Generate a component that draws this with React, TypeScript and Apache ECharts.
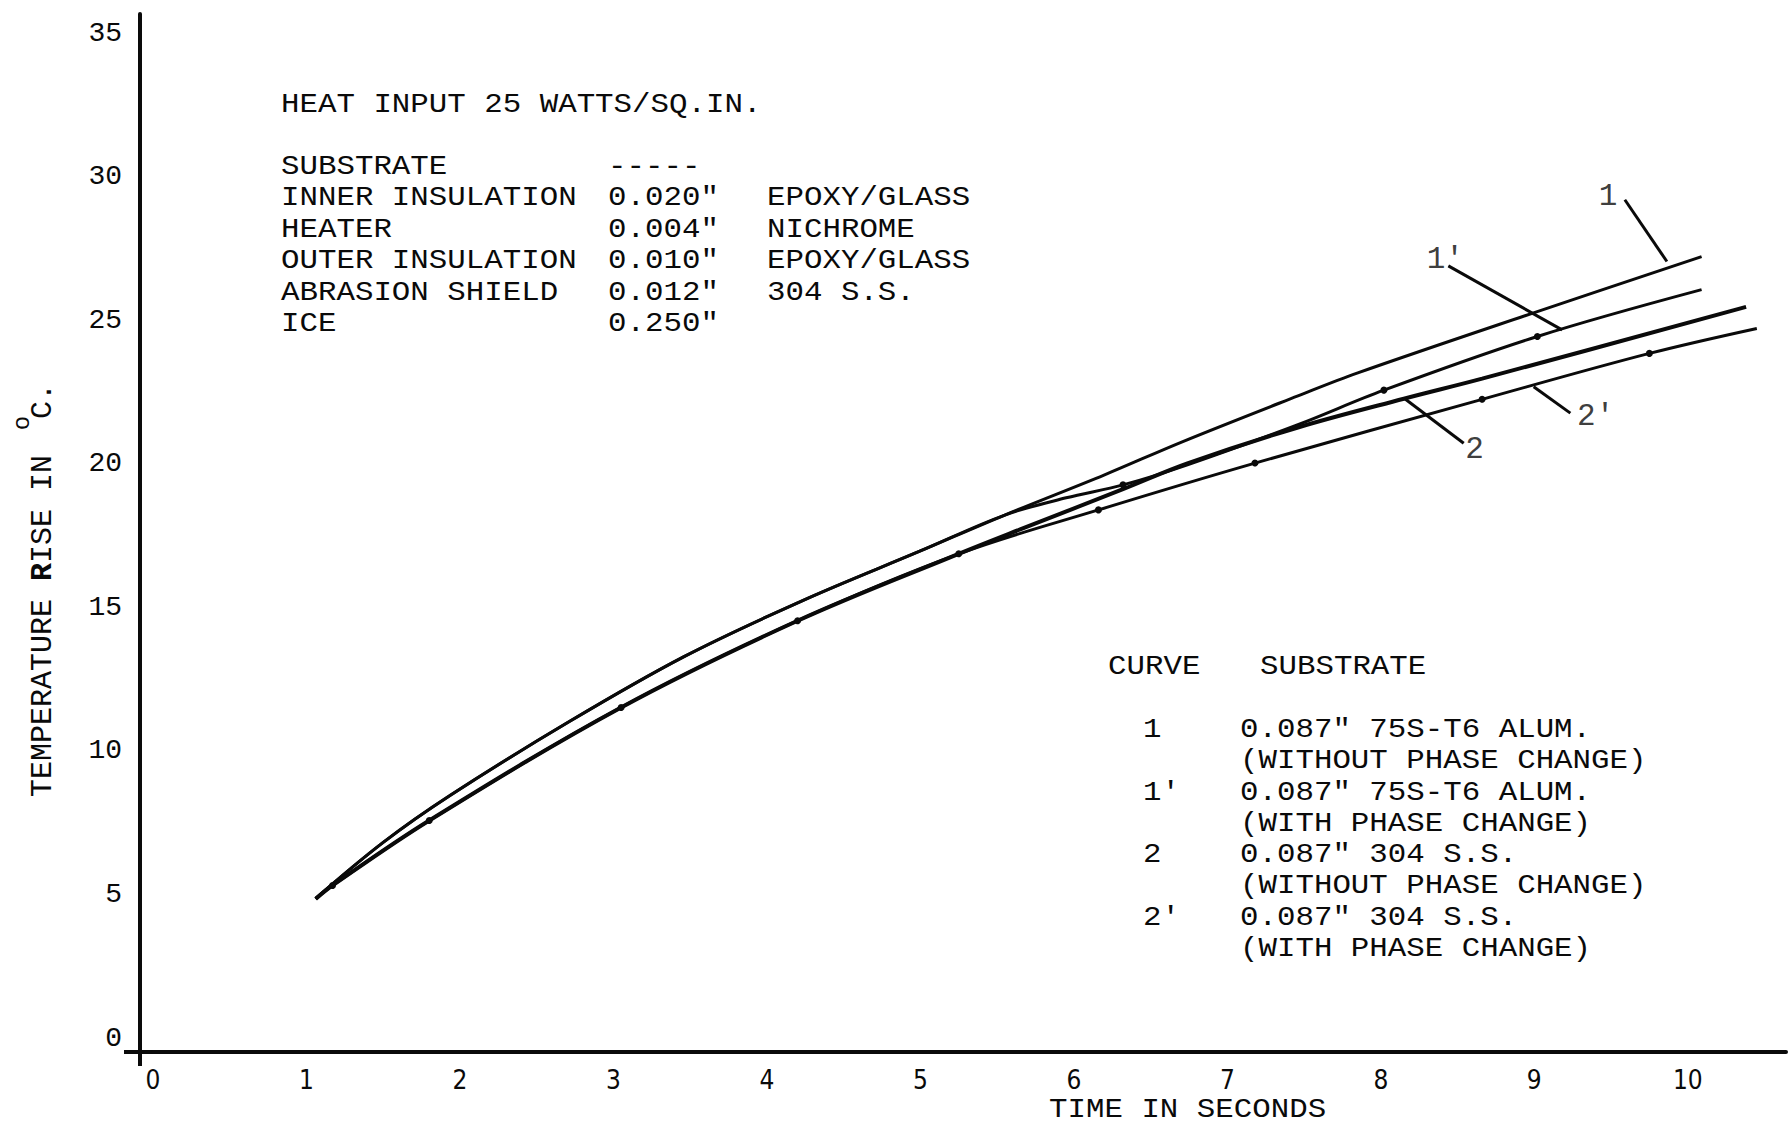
import React, { useEffect, useRef } from "react";
import * as echarts from "echarts";

// Axis ticks
const timeTicks = [0, 1, 2, 3, 4, 5, 6, 7, 8, 9, 10];
const tempTicks = [0, 5, 10, 15, 20, 25, 30, 35];

// Curve 1: 0.087" 75S-T6 ALUM. (without phase change)
const c1Time = [1.06, 1.5, 1.94, 2.71, 3.46, 4.24, 5.0, 5.55, 6.2, 6.71, 7.46, 7.85, 9.0, 10.09];
const c1Temp = [5.35, 7.3, 8.95, 11.5, 13.77, 15.74, 17.45, 18.7, 20.1, 21.26, 22.85, 23.65, 25.75, 27.7];

// Curve 1': 0.087" 75S-T6 ALUM. (with phase change)
const c1pTime = [1.06, 1.5, 1.94, 2.71, 3.46, 4.24, 5.0, 5.55, 5.95, 6.32, 6.74, 7.46, 8.02, 9.02, 10.09];
const c1pTemp = [5.35, 7.3, 8.95, 11.5, 13.77, 15.74, 17.45, 18.7, 19.3, 19.75, 20.45, 21.85, 23.05, 24.92, 26.55];
const c1pPoints = [6.32, 8.02, 9.02];

// Curve 2: 0.087" 304 S.S. (without phase change)
const c2Time = [1.06, 1.17, 1.8, 3.05, 4.2, 5.25, 5.65, 6.32, 6.74, 7.46, 8.15, 8.66, 10.38];
const c2Temp = [5.33, 5.8, 8.06, 12.0, 15.02, 17.35, 18.2, 19.6, 20.5, 21.75, 22.75, 23.45, 25.95];

// Curve 2': 0.087" 304 S.S. (with phase change)
const c2pTime = [1.06, 1.17, 1.8, 3.05, 4.2, 5.25, 6.16, 7.18, 8.66, 9.75, 10.45];
const c2pTemp = [5.33, 5.8, 8.06, 12.0, 15.02, 17.35, 18.88, 20.51, 22.73, 24.33, 25.2];
const c2pPoints = [1.17, 1.8, 3.05, 4.2, 5.25, 6.16, 7.18, 8.66, 9.75];

// Curve call-outs: label position and leader line end points (time, temperature)
const calloutNames = ["1", "1'", "2", "2'"];
const calloutLabelAt = [[9.48, 29.79], [8.42, 27.59], [8.61, 20.97], [9.4, 22.13]];
const calloutFrom = [[9.59, 29.68], [8.44, 27.38], [8.54, 21.2], [9.235, 22.25]];
const calloutTo = [[9.864, 27.53], [9.181, 25.15], [8.152, 22.77], [8.996, 23.17]];

// Test section build-up
const heatInput = "HEAT INPUT 25 WATTS/SQ.IN.";
const layerNames = ["SUBSTRATE", "INNER INSULATION", "HEATER", "OUTER INSULATION", "ABRASION SHIELD", "ICE"];
const layerThickness = ["-----", '0.020"', '0.004"', '0.010"', '0.012"', '0.250"'];
const layerMaterial = ["", "EPOXY/GLASS", "NICHROME", "EPOXY/GLASS", "304 S.S.", ""];

// Curve key
const curveIds = ["1", "1'", "2", "2'"];
const curveSubstrate = ['0.087" 75S-T6 ALUM.', '0.087" 75S-T6 ALUM.', '0.087" 304 S.S.', '0.087" 304 S.S.'];
const curveCondition = ["(WITHOUT PHASE CHANGE)", "(WITH PHASE CHANGE)", "(WITHOUT PHASE CHANGE)", "(WITH PHASE CHANGE)"];

const MONO = "'Liberation Mono', 'DejaVu Sans Mono', 'Courier New', monospace";
const NARROW = "'Liberation Sans Narrow', 'DejaVu Sans Condensed', 'Liberation Sans', sans-serif";
const INK = "#0a0a0a";

function curveData(times: number[], temps: number[], marked: number[] = []) {
  return times.map((t, i) => {
    const dot = marked.indexOf(t) >= 0;
    return { value: [t, temps[i]], symbol: dot ? "circle" : "none", symbolSize: dot ? 7 : 0 };
  });
}

function lineSeries(name: string, data: any[], width: number) {
  return {
    name,
    type: "line",
    data,
    smooth: 0.35,
    showSymbol: true,
    lineStyle: { color: INK, width },
    itemStyle: { color: INK },
    z: 3,
  };
}

// typewriter-style text: a slightly smaller face stretched to the 18.5px pitch
function mono(x: number, y: number, text: string) {
  return {
    type: "text",
    x,
    y,
    scaleX: 1.12,
    style: {
      text,
      fontFamily: MONO,
      fontSize: 27.5,
      lineHeight: 28,
      fill: INK,
      verticalAlign: "middle",
    },
  };
}

export default function App() {
  const ref = useRef<HTMLDivElement>(null);

  useEffect(() => {
    if (!ref.current) return;
    const chart = echarts.init(ref.current, undefined, { renderer: "svg" });

    const rows: any[] = [];
    // test section table, one text per cell
    layerNames.forEach((name, i) => {
      const y = 166.6 + i * 31.5;
      rows.push(mono(281, y, name));
      rows.push(mono(608, y, layerThickness[i]));
      if (layerMaterial[i]) rows.push(mono(767, y, layerMaterial[i]));
    });
    // curve key, two lines per curve
    curveIds.forEach((id, i) => {
      const y = 730 + i * 62.5;
      rows.push(mono(1143, y, id));
      rows.push(mono(1240, y, curveSubstrate[i]));
      rows.push(mono(1240, y + 31.25, curveCondition[i]));
    });

    chart.setOption({
      animation: false,
      backgroundColor: "#ffffff",
      grid: { left: 153, right: 0, top: 14, bottom: 76, containLabel: false },
      xAxis: {
        type: "value",
        min: 0,
        max: 10.64,
        interval: 1,
        axisLine: { show: true, onZero: false, lineStyle: { color: INK, width: 4 } },
        axisTick: { show: false },
        splitLine: { show: false },
        axisLabel: {
          margin: 15,
          color: INK,
          fontFamily: NARROW,
          fontSize: 26,
          formatter: (v: number) => (timeTicks.indexOf(v) >= 0 ? String(v) : ""),
        },
      },
      yAxis: {
        type: "value",
        min: 0,
        max: 36.15,
        interval: 5,
        offset: 13,
        axisLine: { show: true, onZero: false, lineStyle: { color: INK, width: 4 } },
        axisTick: { show: false },
        splitLine: { show: false },
        axisLabel: {
          margin: 18,
          color: INK,
          fontFamily: MONO,
          fontSize: 28,
          verticalAlign: "bottom",
          formatter: (v: number) => (tempTicks.indexOf(v) >= 0 ? String(v) : ""),
        },
      },
      series: [
        lineSeries("1", curveData(c1Time, c1Temp), 3),
        lineSeries("1'", curveData(c1pTime, c1pTemp, c1pPoints), 3),
        lineSeries("2", curveData(c2Time, c2Temp), 4),
        lineSeries("2'", curveData(c2pTime, c2pTemp, c2pPoints), 3),
        {
          type: "lines",
          coordinateSystem: "cartesian2d",
          lineStyle: { color: INK, width: 3, opacity: 1, curveness: 0 },
          data: calloutNames.map((n, i) => ({ name: n, coords: [calloutFrom[i], calloutTo[i]] })),
          z: 4,
        },
        {
          type: "scatter",
          symbolSize: 1,
          itemStyle: { color: "rgba(0,0,0,0)" },
          label: {
            show: true,
            position: "inside",
            formatter: "{b}",
            color: INK,
            fontFamily: MONO,
            fontSize: 31,
          },
          data: calloutNames.map((n, i) => ({ name: n, value: calloutLabelAt[i] })),
          z: 5,
        },
      ],
      graphic: [
        // axis overshoots past the origin
        { type: "line", shape: { x1: 124, y1: 1052, x2: 155, y2: 1052 }, style: { stroke: INK, lineWidth: 4 } },
        { type: "line", shape: { x1: 140, y1: 1050, x2: 140, y2: 1066 }, style: { stroke: INK, lineWidth: 4 } },
        // axis titles
        {
          type: "text",
          x: 43,
          y: 590,
          rotation: Math.PI / 2,
          style: {
            text: "{a|TEMPERATURE }{b|R}{a|ISE IN  C.}",
            align: "center",
            verticalAlign: "middle",
            fill: INK,
            rich: {
              a: { fontFamily: MONO, fontSize: 30, fill: INK },
              b: { fontFamily: MONO, fontSize: 30, fontWeight: "bold", fill: INK },
            },
          },
        },
        {
          type: "text",
          x: 22,
          y: 423,
          rotation: Math.PI / 2,
          style: { text: "o", fontFamily: MONO, fontSize: 24, fill: INK, align: "center", verticalAlign: "middle" },
        },
        mono(1049, 1110, "TIME IN SECONDS"),
        // test section description
        mono(281, 105, heatInput),
        ...rows,
        mono(1108, 667, "CURVE"),
        mono(1260, 667, "SUBSTRATE"),
      ],
    });

    return () => chart.dispose();
  }, []);

  return (
    <div
      ref={ref}
      style={{ position: "fixed", left: 0, top: 0, width: 1789, height: 1128, background: "#fff" }}
    />
  );
}
